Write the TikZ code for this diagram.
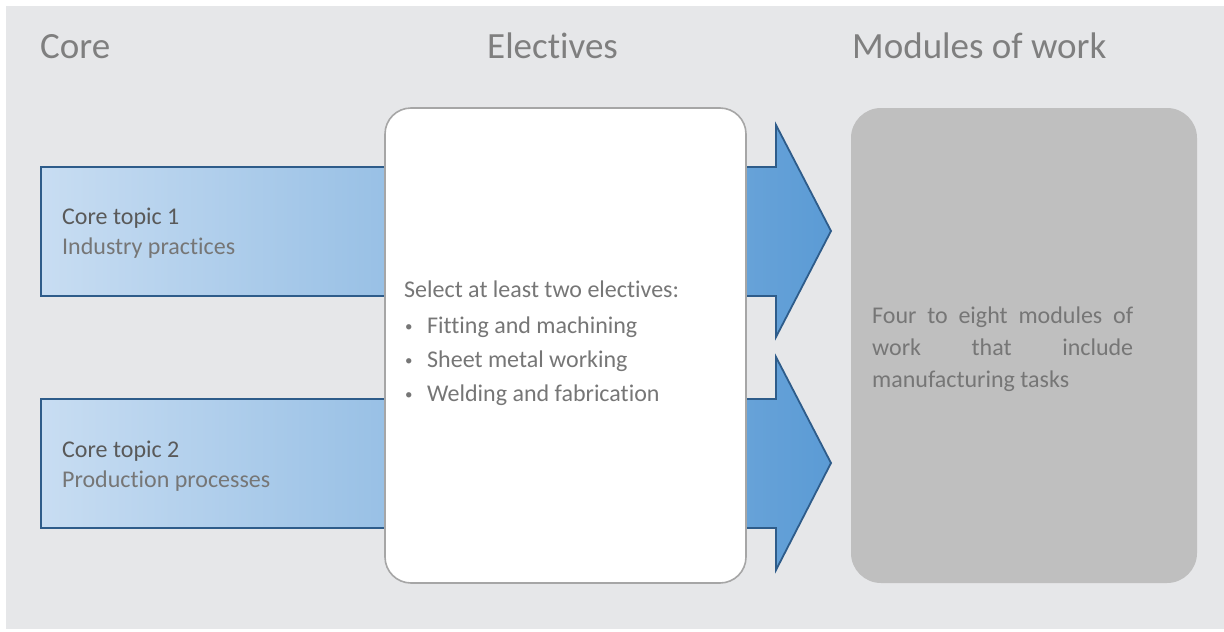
\documentclass[tikz,border=0pt]{standalone}
\usepackage{fontspec}
\setmainfont{Carlito}[Ligatures={NoCommon,NoRequired,NoContextual}]
\usetikzlibrary{positioning}

\definecolor{bggrey}{HTML}{E6E7E9}
\definecolor{titlegrey}{HTML}{7F7F7F}
\definecolor{darktext}{HTML}{595959}
\definecolor{softtext}{HTML}{767676}
\definecolor{arrowblue}{HTML}{2E5C8A}
\definecolor{paleblue}{HTML}{C8DDF2}
\definecolor{midblue}{HTML}{5B9BD5}
\definecolor{boxgrey}{HTML}{A6A6A6}
\definecolor{modgrey}{HTML}{BFBFBF}

\newcommand{\smallbullet}{\makebox[23pt][l]{\hspace{1pt}{\fontsize{15}{15}\selectfont\raisebox{2pt}{•}}}}
\newcommand{\ti}{t\kern0pt i}

\tikzset{
  heading/.style={anchor=base west, inner sep=0pt, text=titlegrey,
    font=\fontsize{37}{44}\selectfont},
  flow/.style={draw=arrowblue, line width=1.8pt, line join=miter,
    left color=paleblue, right color=midblue},
  bodytext/.style={anchor=base west, inner sep=0pt, text=softtext,
    font=\fontsize{24}{30}\selectfont}
}

\begin{document}
\begin{tikzpicture}[x=1pt, y=-1pt]
  \useasboundingbox (0,0) rectangle (1224,632);
  \fill[bggrey] (6,6) rectangle (1224,629);

  % column headings
  \node[heading] (core) at (40,58) {Core};
  \node[heading] (electives) at (487,58) {Elec\ti ves};
  \node[heading] (modules) at (852,58) {Modules of work};

  % the two core arrows
  \draw[flow] (41,167) -- (776,167) -- (776,125) -- (831,231)
    -- (776,337) -- (776,296) -- (41,296) -- cycle;
  \draw[flow] (41,399) -- (776,399) -- (776,357) -- (831,463)
    -- (776,570) -- (776,528) -- (41,528) -- cycle;

  \node[bodytext, text=darktext] (topic1) at (62,224) {Core topic 1};
  \node[bodytext] (practices) at ([yshift=-30pt]topic1.base west) {Industry prac\ti ces};
  \node[bodytext, text=darktext] (topic2) at (62,457) {Core topic 2};
  \node[bodytext] (processes) at ([yshift=-30pt]topic2.base west) {Produc\ti on processes};

  % electives box
  \node[draw=boxgrey, line width=1.6pt, fill=white, rounded corners=26pt,
    minimum width=361pt, minimum height=475pt] (select) at (565.5,345.5) {};
  \node[bodytext] (electlist) at (404,297)
    {\parbox[t]{330pt}{\fontsize{24}{34}\selectfont
     Select at least two elec\ti ves:\\[2pt]
     \smallbullet Fitting and machining\\
     \smallbullet Sheet metal working\\
     \smallbullet Welding and fabrica\ti on}};

  % modules of work box
  \node[fill=modgrey, rounded corners=30pt,
    minimum width=346pt, minimum height=475pt] (work) at (1024,345.5) {};
  \node[bodytext] (worktext) at (872,323)
    {\parbox[t]{261pt}{\fontsize{24}{32}\selectfont
      Four to eight modules of\linebreak work that include\linebreak manufacturing tasks}};
\end{tikzpicture}
\end{document}
